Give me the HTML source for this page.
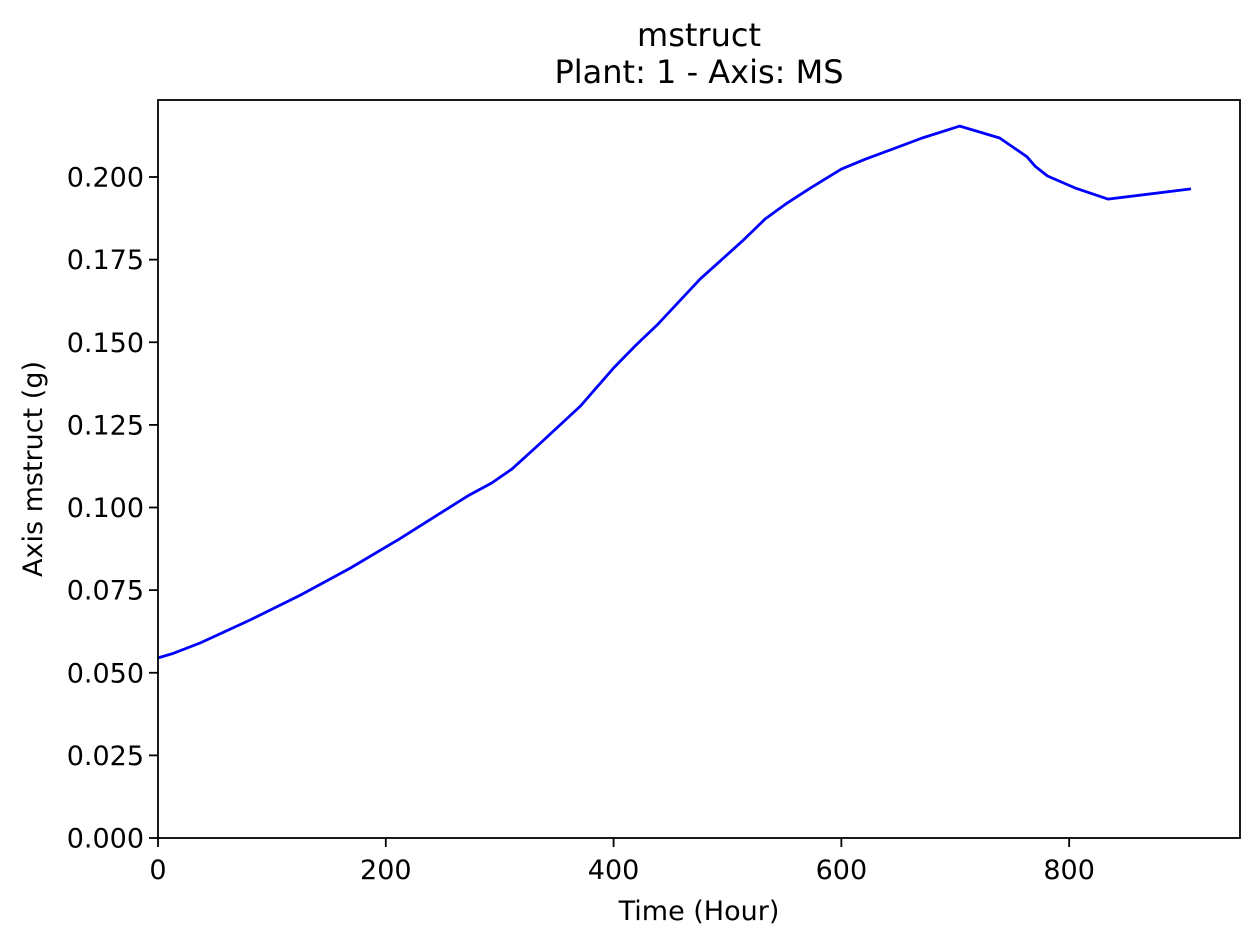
<!DOCTYPE html>
<html><head><meta charset="utf-8"><style>
body{margin:0;background:#fff;}
svg text{font-family:"DejaVu Sans","Liberation Sans",sans-serif;fill:#000;}
</style></head><body>
<svg id="chart" width="1259" height="945">
<rect width="1259" height="945" fill="#fff"/>
<text x="699" y="46" font-size="32" text-anchor="middle">mstruct</text>
<text x="699" y="83" font-size="32" text-anchor="middle">Plant: 1 - Axis: MS</text>
<g id="ticks"></g>
<path id="line" fill="none" stroke="#0000ff" stroke-width="2.8" stroke-linejoin="round"/>
<rect x="158" y="100" width="1082" height="738" fill="none" stroke="#000" stroke-width="1.8"/>
<text x="699" y="920" font-size="27" text-anchor="middle">Time (Hour)</text>
<text transform="translate(42,469) rotate(-90)" font-size="27" text-anchor="middle">Axis mstruct (g)</text>
</svg>
<script>
const times=[0,12,37,81,125,169,212,248,272,293,311,335,371,400,419,439,476,513,533,551,573,600,621,643,671,704,739,763,770,781,805,834,907];
const mstruct=[0.0545,0.0557,0.059,0.066,0.0735,0.0817,0.0905,0.0983,0.1035,0.1074,0.1117,0.1192,0.1307,0.1422,0.1489,0.1555,0.1691,0.1806,0.1873,0.1918,0.1967,0.2024,0.2054,0.2082,0.2118,0.2154,0.2118,0.2061,0.2033,0.2003,0.1967,0.1933,0.1964];
const xTicks=[0,200,400,600,800];
const yTicks=[0,0.025,0.05,0.075,0.1,0.125,0.15,0.175,0.2];
const X0=158,X1=1240,Y0=838,Y1=100,XMAX=950,YMAX=0.2233;
function sx(v){return X0+(X1-X0)*v/XMAX;}
function sy(v){return Y0-(Y0-Y1)*v/YMAX;}
const NS="http://www.w3.org/2000/svg";
const g=document.getElementById('ticks');
xTicks.forEach(t=>{
  const l=document.createElementNS(NS,'line');
  l.setAttribute('x1',sx(t));l.setAttribute('x2',sx(t));l.setAttribute('y1',838);l.setAttribute('y2',847);
  l.setAttribute('stroke','#000');l.setAttribute('stroke-width','1.8');
  
  
  g.appendChild(l);
  const tx=document.createElementNS(NS,'text');
  tx.setAttribute('x',sx(t));tx.setAttribute('y',879);tx.setAttribute('font-size','27');tx.setAttribute('text-anchor','middle');
  tx.textContent=String(t);
  
  
  g.appendChild(tx);
});
yTicks.forEach(t=>{
  const l=document.createElementNS(NS,'line');
  l.setAttribute('x1',149);l.setAttribute('x2',158);l.setAttribute('y1',sy(t));l.setAttribute('y2',sy(t));
  l.setAttribute('stroke','#000');l.setAttribute('stroke-width','1.8');
  
  
  g.appendChild(l);
  const tx=document.createElementNS(NS,'text');
  tx.setAttribute('x',144);tx.setAttribute('y',sy(t)+9.5);tx.setAttribute('font-size','27');tx.setAttribute('text-anchor','end');
  tx.textContent=t.toFixed(3);
  
  
  g.appendChild(tx);
});
document.getElementById('line').setAttribute('d',times.map((t,i)=>(i?'L':'M')+sx(t).toFixed(1)+','+sy(mstruct[i]).toFixed(1)).join(' '));
</script>
</body></html>
